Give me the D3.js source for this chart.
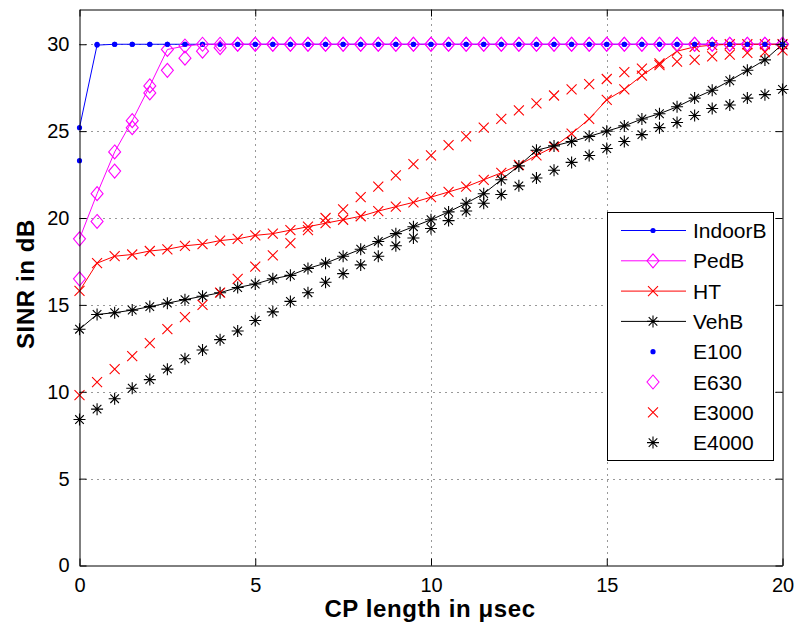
<!DOCTYPE html>
<html lang="en">
<head>
<meta charset="UTF-8"/>
<title>SINR vs CP length</title>
<script src="https://cdn.jsdelivr.net/npm/d3@7"></script>
<style>
  body { margin: 0; background: #fff; }
  svg text { font-family: "Liberation Sans", Arial, Helvetica, sans-serif; }
</style>
</head>
<body>
<script>
// CP length (usec)
var cpLength = [0, 0.5, 1, 1.5, 2, 2.5, 3, 3.5, 4, 4.5, 5, 5.5, 6, 6.5, 7, 7.5, 8, 8.5, 9, 9.5,
                10, 10.5, 11, 11.5, 12, 12.5, 13, 13.5, 14, 14.5, 15, 15.5, 16, 16.5, 17, 17.5, 18, 18.5, 19, 19.5, 20];

var indoorB = [25.2, 29.95, 30, 30, 30, 30, 30, 30, 30, 30, 30, 30, 30, 30, 30, 30, 30, 30, 30, 30,
               30, 30, 30, 30, 30, 30, 30, 30, 30, 30, 30, 30, 30, 30, 30, 30, 30, 30, 30, 30, 30];
var pedB = [18.8, 21.4, 23.8, 25.6, 27.6, 29.7, 29.9, 30, 30, 30, 30, 30, 30, 30, 30, 30, 30, 30, 30, 30,
            30, 30, 30, 30, 30, 30, 30, 30, 30, 30, 30, 30, 30, 30, 30, 30, 30, 30, 30, 30, 30];
var ht = [15.8, 17.4, 17.8, 17.9, 18.1, 18.2, 18.4, 18.5, 18.7, 18.8, 19.0, 19.1, 19.3, 19.5, 19.7, 19.9, 20.1, 20.4, 20.65, 20.9,
          21.2, 21.5, 21.8, 22.2, 22.6, 23.05, 23.6, 24.1, 24.85, 25.7, 26.8, 27.4, 28.2, 28.9, 29.6, 29.85, 29.95, 30, 30, 30, 30];
var vehB = [13.6, 14.45, 14.55, 14.7, 14.9, 15.1, 15.3, 15.5, 15.7, 16.0, 16.2, 16.5, 16.7, 17.1, 17.4, 17.8, 18.2, 18.65, 19.1, 19.5,
            19.9, 20.35, 20.85, 21.4, 22.2, 23.0, 23.9, 24.15, 24.4, 24.7, 25.0, 25.3, 25.7, 26.0, 26.4, 26.9, 27.35, 27.9, 28.5, 29.1, 30.0];

var e100 = [23.3, 30, 30, 30, 30, 30, 30, 30, 30, 30, 30, 30, 30, 30, 30, 30, 30, 30, 30, 30,
            30, 30, 30, 30, 30, 30, 30, 30, 30, 30, 30, 30, 30, 30, 30, 30, 30, 30, 30, 30, 30];
var e630 = [16.5, 19.8, 22.7, 25.2, 27.2, 28.5, 29.2, 29.6, 29.8, 30, 30, 30, 30, 30, 30, 30, 30, 30, 30, 30,
            30, 30, 30, 30, 30, 30, 30, 30, 30, 30, 30, 30, 30, 30, 30, 30, 30, 30, 30, 30, 30];
var e3000 = [9.8, 10.55, 11.3, 12.05, 12.8, 13.6, 14.3, 15.0, 15.7, 16.5, 17.2, 17.85, 18.55, 19.3, 20.0, 20.5, 21.2, 21.8, 22.45, 23.1,
             23.6, 24.2, 24.7, 25.2, 25.7, 26.2, 26.6, 27.05, 27.4, 27.7, 28.0, 28.4, 28.6, 28.8, 29.0, 29.1, 29.3, 29.4, 29.5, 29.55, 29.65];
var e4000 = [8.4, 9.0, 9.6, 10.2, 10.7, 11.3, 11.9, 12.4, 13.0, 13.5, 14.1, 14.6, 15.2, 15.7, 16.3, 16.8, 17.3, 17.8, 18.4, 18.85,
             19.4, 19.85, 20.4, 20.85, 21.35, 21.85, 22.3, 22.75, 23.2, 23.6, 24.0, 24.4, 24.8, 25.2, 25.5, 25.9, 26.3, 26.5, 26.9, 27.1, 27.4];

var xTicks = [0, 5, 10, 15, 20];
var yTicks = [0, 5, 10, 15, 20, 25, 30];

var w = 796;
var h = 625;
var plotLeft = 79.5, plotRight = 782.5, plotTop = 9.5, plotBottom = 565.5;

var svg = d3.select("body")
  .append("svg")
  .attr("width", w)
  .attr("height", h);

var xScale = d3.scaleLinear().domain([0, 20]).range([plotLeft, plotRight]);
var yScale = d3.scaleLinear().domain([0, 32]).range([plotBottom, plotTop]);

// marker shapes
var markers = {
  dot: function(g, c) {
    g.append("circle").attr("r", 2.6).attr("fill", c).attr("stroke", "none");
  },
  diamond: function(g, c) {
    g.append("path").attr("d", "M0,-7L6,0L0,7L-6,0Z").attr("fill", "none").attr("stroke", c).attr("stroke-width", 1.1);
  },
  cross: function(g, c) {
    g.append("path").attr("d", "M-5,-5L5,5M-5,5L5,-5").attr("fill", "none").attr("stroke", c).attr("stroke-width", 1.1);
  },
  star: function(g, c) {
    g.append("path").attr("d", "M-6,0H6M0,-6V6M-4.3,-4.3L4.3,4.3M-4.3,4.3L4.3,-4.3")
      .attr("fill", "none").attr("stroke", c).attr("stroke-width", 1.1);
  }
};

var series = [
  { name: "IndoorB", values: indoorB, color: "#0000ff", marker: "dot", line: true },
  { name: "PedB", values: pedB, color: "#ff00ff", marker: "diamond", line: true },
  { name: "HT", values: ht, color: "#ff0000", marker: "cross", line: true },
  { name: "VehB", values: vehB, color: "#000000", marker: "star", line: true },
  { name: "E100", values: e100, color: "#0000ff", marker: "dot", line: false },
  { name: "E630", values: e630, color: "#ff00ff", marker: "diamond", line: false },
  { name: "E3000", values: e3000, color: "#ff0000", marker: "cross", line: false },
  { name: "E4000", values: e4000, color: "#000000", marker: "star", line: false }
];

// grid
var grid = svg.append("g").attr("stroke", "#000").attr("stroke-width", 1)
  .attr("stroke-dasharray", "1,5").attr("opacity", 0.8);
grid.selectAll("line.gx")
  .data(xTicks.filter(function(d) { return d > 0 && d < 20; }))
  .enter().append("line")
  .attr("x1", function(d) { return Math.round(xScale(d)) + 0.5; })
  .attr("x2", function(d) { return Math.round(xScale(d)) + 0.5; })
  .attr("y1", plotBottom).attr("y2", plotTop);
grid.selectAll("line.gy")
  .data(yTicks.filter(function(d) { return d > 0; }))
  .enter().append("line")
  .attr("y1", function(d) { return Math.round(yScale(d)) + 0.5; })
  .attr("y2", function(d) { return Math.round(yScale(d)) + 0.5; })
  .attr("x1", plotLeft).attr("x2", plotRight);

// data
var line = d3.line()
  .x(function(d, i) { return xScale(cpLength[i]); })
  .y(function(d) { return yScale(d); });

series.forEach(function(s) {
  var g = svg.append("g");
  if (s.line) {
    g.append("path")
      .datum(s.values)
      .attr("d", line)
      .attr("fill", "none")
      .attr("stroke", s.color)
      .attr("stroke-width", 1);
  }
  g.selectAll("g.m")
    .data(s.values)
    .enter().append("g")
    .attr("transform", function(d, i) { return "translate(" + xScale(cpLength[i]) + "," + yScale(d) + ")"; })
    .each(function() { markers[s.marker](d3.select(this), s.color); });
});

// axes
var axisFont = function(g) {
  g.selectAll("text").attr("font-size", "20px").attr("fill", "#000")
    .attr("font-family", "'Liberation Sans', Arial, sans-serif");
  g.selectAll("line, path").attr("stroke", "#000").attr("stroke-width", 1);
};

svg.append("g")
  .attr("transform", "translate(0," + plotBottom + ")")
  .call(d3.axisBottom(xScale).tickValues(xTicks).tickSize(-7).tickSizeOuter(0).tickPadding(12))
  .call(axisFont);
svg.append("g")
  .attr("transform", "translate(0," + plotTop + ")")
  .call(d3.axisTop(xScale).tickValues(xTicks).tickSize(-7).tickSizeOuter(0).tickFormat(""))
  .call(axisFont);
svg.append("g")
  .attr("transform", "translate(" + plotLeft + ",0)")
  .call(d3.axisLeft(yScale).tickValues(yTicks).tickSize(-7).tickSizeOuter(0).tickPadding(10))
  .call(axisFont);
svg.append("g")
  .attr("transform", "translate(" + plotRight + ",0)")
  .call(d3.axisRight(yScale).tickValues(yTicks).tickSize(-7).tickSizeOuter(0).tickFormat(""))
  .call(axisFont);

// axis labels
svg.append("text")
  .attr("x", 430)
  .attr("y", 617)
  .attr("text-anchor", "middle")
  .attr("font-size", "24px")
  .attr("font-weight", "bold")
  .attr("letter-spacing", "0.6px")
  .text("CP length in μsec");

svg.append("text")
  .attr("transform", "translate(34,284) rotate(-90)")
  .attr("text-anchor", "middle")
  .attr("font-size", "24px")
  .attr("font-weight", "bold")
  .attr("letter-spacing", "0.6px")
  .text("SINR in dB");

// legend
var legend = svg.append("g");
legend.append("rect")
  .attr("x", 607.5).attr("y", 212.5)
  .attr("width", 166).attr("height", 248)
  .attr("fill", "#fff").attr("stroke", "#000").attr("stroke-width", 1);

series.forEach(function(s, i) {
  var y = 230.5 + i * 30.3;
  var g = legend.append("g");
  if (s.line) {
    g.append("line").attr("x1", 621).attr("x2", 686).attr("y1", y).attr("y2", y)
      .attr("stroke", s.color).attr("stroke-width", 1);
  }
  var m = g.append("g").attr("transform", "translate(653," + y + ")");
  markers[s.marker](m, s.color);
  g.append("text")
    .attr("x", 693).attr("y", y)
    .attr("dy", "0.36em")
    .attr("font-size", "21px")
    .text(s.name);
});
</script>
</body>
</html>
